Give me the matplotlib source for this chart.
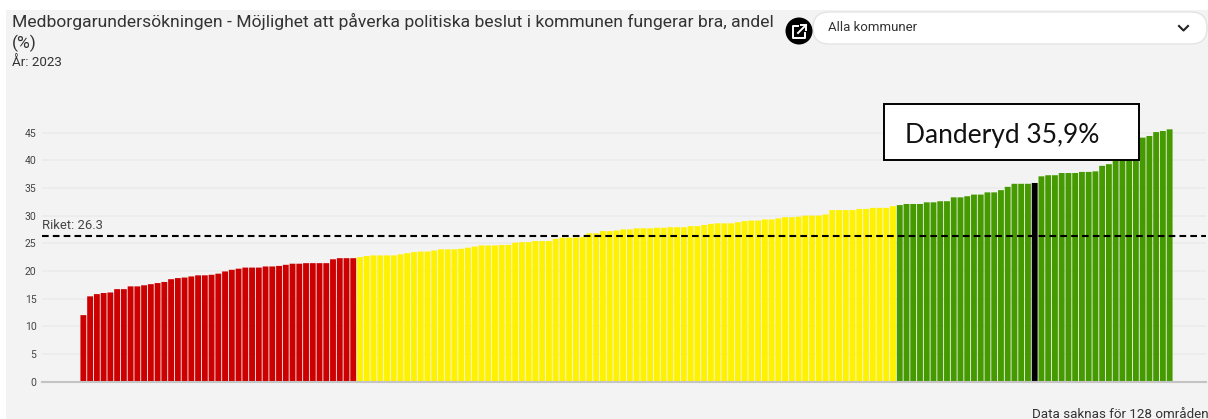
import matplotlib
matplotlib.use("Agg")
import matplotlib.pyplot as plt
from matplotlib.patches import Rectangle, FancyBboxPatch, Circle

W, H = 1208, 419

# values, sorted as in the chart
red_values = [12.0, 15.4, 15.8, 16.0, 16.1, 16.7, 16.7, 17.2, 17.2, 17.4, 17.6, 17.8, 18.0, 18.5,
              18.7, 18.8, 19.0, 19.2, 19.2, 19.3, 19.5, 19.9, 20.2, 20.4, 20.6, 20.6, 20.6, 20.8,
              20.8, 20.9, 21.1, 21.3, 21.3, 21.4, 21.4, 21.4, 21.4, 22.1, 22.3, 22.3, 22.3]
yellow_values = [22.5, 22.7, 22.8, 22.8, 22.8, 22.8, 23.0, 23.2, 23.4, 23.5, 23.5, 23.7, 23.9, 23.9,
                 23.9, 24.0, 24.2, 24.4, 24.6, 24.6, 24.6, 24.7, 24.7, 25.1, 25.2, 25.2, 25.4, 25.4,
                 25.4, 25.8, 26.0, 26.0, 26.0, 26.1, 26.8, 26.8, 27.2, 27.2, 27.3, 27.5, 27.5, 27.7,
                 27.7, 27.7,
                 27.8, 27.8, 27.9, 27.9, 27.9, 28.1, 28.1, 28.3, 28.5, 28.6, 28.6, 28.6, 28.8, 29.0,
                 29.1, 29.1, 29.3, 29.3, 29.5, 29.7, 29.7, 29.8, 30.0, 30.0, 30.0, 30.2, 31.0, 31.0,
                 31.0, 31.0, 31.2, 31.2, 31.4, 31.4, 31.4, 31.7]
green_values = [31.9, 32.1, 32.1, 32.1, 32.4, 32.4, 32.6, 32.6, 33.3, 33.3, 33.5, 33.8, 33.8, 34.2,
                34.2, 34.6, 35.2, 35.75, 35.75, 35.75, 35.9, 37.1, 37.3, 37.3, 37.7, 37.7, 37.7, 37.9,
                37.9, 38.0, 39.0, 39.3, 40.3, 41.5, 42.5, 43.3, 44.1, 44.4, 45.1, 45.3, 45.6]
danderyd_index = 141
riket = 26.3
y_ticks = [0, 5, 10, 15, 20, 25, 30, 35, 40, 45]

plt.rcParams["font.family"] = ["Roboto", "DejaVu Sans"]

fig = plt.figure(figsize=(W / 100, H / 100), dpi=100, facecolor="white")

# page background, in pixel coordinates
bg = fig.add_axes([0, 0, 1, 1], zorder=0)
bg.set_xlim(0, W)
bg.set_ylim(H, 0)
bg.axis("off")
bg.add_patch(Rectangle((6, 10), W - 6, H - 10, fc="#f3f3f3", ec="none"))

# chart
x0, x1 = 42, 1206
y_top, y_bot = 120, 381.5
ax = fig.add_axes([x0 / W, 1 - y_bot / H, (x1 - x0) / W, (y_bot - y_top) / H], zorder=1)
ax.patch.set_alpha(0)
pitch = (1173 - 80) / 162
ax.set_xlim((x0 - 80) / pitch - 0.5, (x1 - 80) / pitch - 0.5)
ax.set_ylim(0, (y_bot - y_top) / 5.53)

values = red_values + yellow_values + green_values
colors = ["#cc0000"] * len(red_values) + ["#fff200"] * len(yellow_values) + ["#459a00"] * len(green_values)
colors[danderyd_index] = "#000000"
bars = ax.bar(range(len(values)), values, width=0.87, color=colors, zorder=2)
for b in bars:
    b.set_snap(False)

for s in ["top", "right", "left"]:
    ax.spines[s].set_visible(False)
ax.spines["bottom"].set_color("#c4c4c4")
ax.spines["bottom"].set_linewidth(1.5)
ax.set_xticks([])
ax.set_yticks(y_ticks)
ax.tick_params(axis="y", length=0, pad=4, labelsize=7.5, labelcolor="#444444")
ax.grid(axis="y", color="#ebebeb", linewidth=1.2, zorder=0)
ax.set_axisbelow(True)
ax.axhline(riket, color="black", linewidth=1.5, dashes=(3.2, 2), zorder=3)

# overlay in pixel coordinates
top = fig.add_axes([0, 0, 1, 1], zorder=2)
top.set_xlim(0, W)
top.set_ylim(H, 0)
top.axis("off")
top.patch.set_alpha(0)

top.text(12, 21.5, "Medborgarundersökningen - Möjlighet att påverka politiska beslut i kommunen fungerar bra, andel",
         fontsize=12.6, color="#333333", va="center", ha="left")
top.text(12, 43.5, "(%)", fontsize=12.6, color="#333333", va="center", ha="left")
top.text(12, 62, "År: 2023", fontsize=9.6, color="#333333", va="center", ha="left")
top.text(42, 225, "Riket: 26.3", fontsize=9.4, color="#444444", va="center", ha="left")
top.text(1032, 414, "Data saknas för 128 områden", fontsize=9.6, color="#333333", va="center", ha="left")

top.add_patch(Rectangle((884, 104), 255, 56, fc="white", ec="black", lw=1.4))
top.text(905, 135, "Danderyd 35,9%", family=["Lato", "DejaVu Sans"], fontsize=19, color="#111111",
         va="center", ha="left")

# dropdown
top.add_patch(FancyBboxPatch((813, 12), 394, 32, boxstyle="round,pad=0,rounding_size=16",
                             fc="white", ec="#e4e4e4", lw=1))
top.text(828, 27.5, "Alla kommuner", fontsize=9.5, color="#333333", va="center", ha="left")
top.plot([1179, 1183.5, 1188], [26, 30.5, 26], color="#222222", lw=1.5)

# open-in-new button
top.add_patch(Circle((799, 31), 13.5, fc="black", ec="none"))
top.plot([798, 793, 793, 805, 805], [26, 26, 38, 38, 33], color="white", lw=1.4)
top.plot([798, 806], [33, 25], color="white", lw=1.4)
top.plot([801, 806, 806], [25, 25, 30], color="white", lw=1.4)

fig.savefig("out.png", dpi=100, facecolor="white")
